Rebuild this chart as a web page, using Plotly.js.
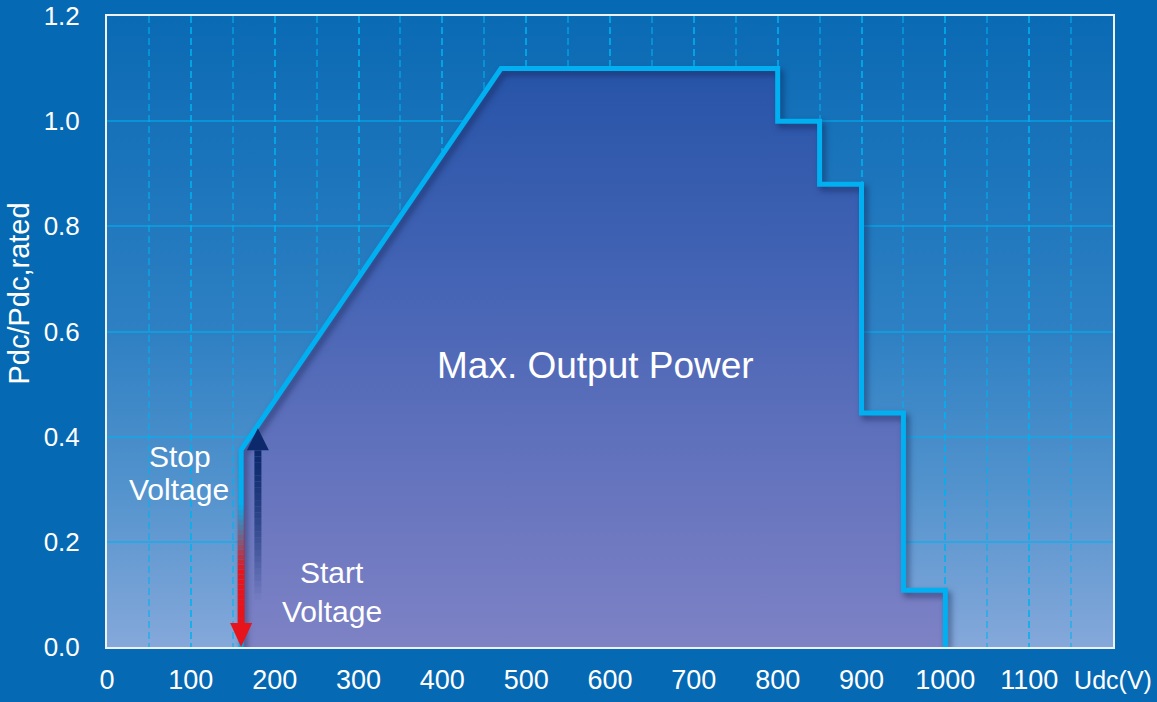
<!DOCTYPE html>
<html><head><meta charset="utf-8">
<script src="https://cdn.plot.ly/plotly-3.0.1.min.js"></script>
<style>
html,body{margin:0;padding:0;background:#0669b3;overflow:hidden;}
#chart{width:1157px;height:702px;}
#chart .scatterlayer .trace .js-line{filter:drop-shadow(3px 4px 3px rgba(12,25,70,0.55));}
</style></head><body><div id="chart"></div>
<script>
// ---- data ----
const voltage    = [160, 160,   470, 800, 800, 850, 850,  900,  900,   950,   950,   1000,  1000];
const powerRatio = [0,   0.375, 1.1, 1.1, 1.0, 1.0, 0.88, 0.88, 0.445, 0.445, 0.108, 0.108, 0];
const xTickVals   = [0, 100, 200, 300, 400, 500, 600, 700, 800, 900, 1000, 1100, 1200];
const xTickLabels = ['0','100','200','300','400','500','600','700','800','900','1000','1100',
                     '<span style="font-size:25px">Udc(V)</span>'];
const yTickVals = [0, 0.2, 0.4, 0.6, 0.8, 1.0, 1.2];
// arrows: stop voltage (down, red) and start voltage (up, navy)
const stopArrow  = {x: 160, top: 0.27, tip: 0};
const startArrow = {x: 180, bottom: 0.09, tip: 0.416};
// text labels
const textLabels = [
  {text: 'Stop',    x: 87,  y: 0.363, size: 30},
  {text: 'Voltage', x: 86,  y: 0.300, size: 30},
  {text: 'Start',   x: 268, y: 0.141, size: 30},
  {text: 'Voltage', x: 268, y: 0.068, size: 30},
  {text: 'Max. Output Power', x: 583, y: 0.536, size: 37}
];
const yTitle = {text: 'Pdc/Pdc,rated', y: 0.673};

// ---- styling ----
const FONT = 'Liberation Sans, Arial, sans-serif';
const bgSvg = "<svg xmlns='http://www.w3.org/2000/svg' width='100' height='100' preserveAspectRatio='none'>" +
  "<defs><linearGradient id='g' x1='0' y1='0' x2='0' y2='1'>" +
  "<stop offset='0' stop-color='#0a6ab4'/><stop offset='0.5' stop-color='#2e80c3'/>" +
  "<stop offset='0.75' stop-color='#5393cd'/><stop offset='1' stop-color='#85a8da'/>" +
  "</linearGradient></defs><rect width='100' height='100' fill='url(#g)'/></svg>";
const bgSrc = 'data:image/svg+xml;charset=utf-8,' + encodeURIComponent(bgSvg);

function shaft(x, yA, yB, color, opA, opB, n, width, ease) {
  const out = [];
  for (let i = 0; i < n; i++) {
    const t0 = i / n, t1 = (i + 1) / n;
    const tm = (t0 + t1) / 2;
    const op = opA + (opB - opA) * ease(tm);
    out.push({type: 'line', xref: 'x', yref: 'y', layer: 'above',
      x0: x, x1: x, y0: yA + (yB - yA) * t0, y1: yA + (yB - yA) * t1,
      line: {color: color, width: width}, opacity: op});
  }
  return out;
}

const shapes = []
  .concat(shaft(stopArrow.x, stopArrow.top, stopArrow.tip + 0.044, '#e8141c', 0, 1, 24, 7,
                t => Math.min(1, t * 1.8)))
  .concat(shaft(startArrow.x, startArrow.tip - 0.042, startArrow.bottom, '#0c2a6b', 1, 0, 24, 7,
                t => Math.pow(t, 1.3)));
shapes.push({type: 'path', xref: 'x', yref: 'y', xsizemode: 'pixel', ysizemode: 'pixel',
  xanchor: stopArrow.x, yanchor: stopArrow.tip, layer: 'above',
  path: 'M-11,24 L11,24 L0,0 Z', fillcolor: '#e8141c', line: {width: 0}});
shapes.push({type: 'path', xref: 'x', yref: 'y', xsizemode: 'pixel', ysizemode: 'pixel',
  xanchor: startArrow.x, yanchor: startArrow.tip, layer: 'above',
  path: 'M-11,-22 L11,-22 L0,0 Z', fillcolor: '#0c2a6b', line: {width: 0}});

const annotations = textLabels.map(l => ({
  text: l.text, x: l.x, y: l.y, xref: 'x', yref: 'y', showarrow: false,
  xanchor: 'center', yanchor: 'middle', font: {family: FONT, size: l.size, color: '#ffffff'}
}));
annotations.push({text: yTitle.text, x: -0.087, y: yTitle.y, xref: 'paper', yref: 'y',
  showarrow: false, textangle: -90, xanchor: 'center', yanchor: 'middle',
  font: {family: FONT, size: 29, color: '#ffffff'}});

const trace = {
  x: voltage, y: powerRatio, type: 'scatter', mode: 'lines',
  fill: 'toself',
  fillgradient: {type: 'vertical',
    colorscale: [[0, '#7e82c5'], [0.35, '#6071bc'], [0.65, '#4363b4'], [1, '#2754a8']]},
  line: {color: '#00b0f0', width: 5},
  hoverinfo: 'skip', showlegend: false
};

const gridCol = 'rgba(0,176,240,0.55)';
const layout = {
  width: 1157, height: 702,
  margin: {l: 107, r: 44, t: 16, b: 55},
  paper_bgcolor: '#0669b3', plot_bgcolor: 'rgba(0,0,0,0)',
  font: {family: FONT, color: '#ffffff'},
  showlegend: false,
  xaxis: {range: [0, 1200], tickmode: 'array', tickvals: xTickVals, ticktext: xTickLabels,
    tickfont: {size: 27, color: '#ffffff'}, ticks: '', ticklabelstandoff: 8,
    showgrid: true, gridcolor: gridCol, gridwidth: 2, griddash: '7px,4px',
    minor: {dtick: 50, tick0: 0, showgrid: true, gridcolor: gridCol, gridwidth: 2, griddash: '7px,4px'},
    zeroline: false, showline: true, mirror: true, linecolor: '#eef2f7', linewidth: 2,
    fixedrange: true},
  yaxis: {range: [0, 1.2], tickmode: 'array', tickvals: yTickVals, tickformat: '.1f',
    tickfont: {size: 26, color: '#ffffff'}, ticks: '', ticklabelstandoff: 20,
    showgrid: true, gridcolor: gridCol, gridwidth: 2,
    zeroline: false, showline: true, mirror: true, linecolor: '#eef2f7', linewidth: 2,
    fixedrange: true},
  images: [{source: bgSrc, xref: 'paper', yref: 'paper', x: 0, y: 1, sizex: 1, sizey: 1,
    sizing: 'stretch', xanchor: 'left', yanchor: 'top', layer: 'below'}],
  shapes: shapes,
  annotations: annotations
};

Plotly.newPlot('chart', [trace], layout, {displayModeBar: false, staticPlot: true});
</script></body></html>
